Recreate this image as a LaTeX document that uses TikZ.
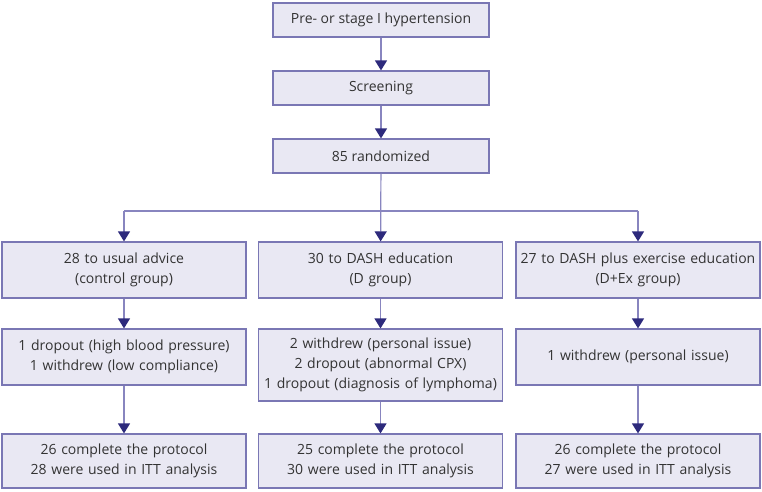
\documentclass[tikz,border=0pt]{standalone}
\usepackage{fontspec}
\setmainfont{Open Sans}
\usetikzlibrary{positioning, arrows.meta}

\definecolor{boxfill}{HTML}{E9E8F3}
\definecolor{boxline}{HTML}{7A77B4}
\definecolor{flowline}{HTML}{8885BF}
\definecolor{tipcolor}{HTML}{2D2A7C}
\definecolor{textgray}{HTML}{333333}

\tikzset{
    flowbox/.style={draw=boxline, fill=boxfill, line width=1.2pt, inner sep=0pt,
        align=center, text=textgray, font=\fontsize{14}{19.7}\selectfont},
    topbox/.style={flowbox, minimum width=216pt, minimum height=34pt},
    groupbox/.style={flowbox, text width=244pt, minimum height=#1},
    groupbox/.default=56pt,
    flowarrow/.style={draw=flowline, line width=1.2pt,
        -{Triangle[width=12pt, length=10pt, color=tipcolor]}}
}

\begin{document}
\begin{tikzpicture}[x=1pt, y=-1pt]
    \useasboundingbox (0,0) rectangle (762,491);
    % enrolment
    \node[topbox] (hyper) at (381,20) {Pre- or stage I hypertension};
    \node[topbox] (screen) at (381,88) {Screening};
    \node[topbox] (random) at (381,156) {85 randomized};
    % allocation
    \node[groupbox] (usual) at (124,270) {28 to usual advice\\(control group)};
    \node[groupbox] (dash) at (380.5,270) {30 to DASH education\\(D group)};
    \node[groupbox] (dashex) at (638,270) {27 to DASH plus exercise education\\(D+Ex group)};
    % follow-up
    \node[groupbox] (usualout) at (124,357) {1 dropout (high blood pressure)\\1 withdrew (low compliance)};
    \node[groupbox=72pt] (dashout) at (380.5,365) {2 withdrew (personal issue)\\2 dropout (abnormal CPX)\\1 dropout (diagnosis of lymphoma)};
    \node[groupbox] (dashexout) at (638,357) {1 withdrew (personal issue)};
    % analysis
    \node[groupbox=54pt] (usualitt) at (124,461) {26 complete the protocol\\28 were used in ITT analysis};
    \node[groupbox=54pt] (dashitt) at (380.5,461) {25 complete the protocol\\30 were used in ITT analysis};
    \node[groupbox=54pt] (dashexitt) at (638,461) {26 complete the protocol\\27 were used in ITT analysis};

    \coordinate (split) at (random.south |- 0,211);
    \draw[flowarrow] (hyper) -- (screen);
    \draw[flowarrow] (screen) -- (random);
    \draw[flowarrow] (random) -- (dash);
    \draw[draw=flowline, line width=1.2pt] (usual.north |- split) -- (dashex.north |- split);
    \draw[flowarrow] (usual.north |- split) -- (usual);
    \draw[flowarrow] (dashex.north |- split) -- (dashex);
    \foreach \a/\b in {usual/usualout, dash/dashout, dashex/dashexout,
        usualout/usualitt, dashout/dashitt, dashexout/dashexitt}{%
        \draw[flowarrow] (\a) -- (\b);
    }
\end{tikzpicture}
\end{document}
